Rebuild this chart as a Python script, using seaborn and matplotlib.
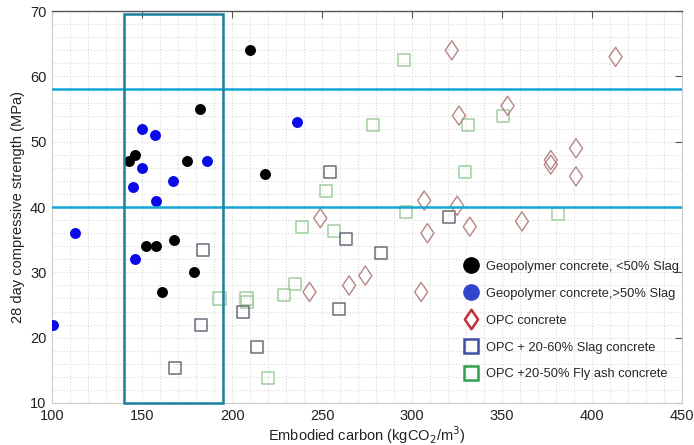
import numpy as np
import pandas as pd
import matplotlib
matplotlib.use("Agg")
import matplotlib.pyplot as plt
from matplotlib.path import Path
from matplotlib.lines import Line2D
from matplotlib.patches import Rectangle
from matplotlib.ticker import MultipleLocator
import seaborn as sns

# ---- data ----
geo_low_x = [210, 182, 146, 143, 175, 218, 152, 158, 168, 179, 161]
geo_low_y = [64, 55, 48, 47, 47, 45, 34, 34, 35, 30, 27]

geo_high_x = [150, 157, 150, 145, 167, 158, 186, 236, 113, 146, 100.5]
geo_high_y = [52, 51, 46, 43, 44, 41, 47, 53, 36, 32, 22]

opc_x = [322, 413, 353, 326, 391, 377, 377, 391, 306.7, 325, 249, 332, 308.5, 361, 274, 265, 243, 305]
opc_y = [64, 63, 55.5, 54, 49, 47.2, 46.5, 44.7, 41, 40.2, 38.3, 37, 36, 37.8, 29.5, 28, 27, 27]

slag_x = [254.4, 320.6, 263, 282.7, 259.6, 184, 182.8, 168.3, 206, 214]
slag_y = [45.4, 38.5, 35.1, 33, 24.4, 33.4, 21.9, 15.3, 24, 18.5]

fly_x = [295.6, 278, 331, 329.4, 252, 296.7, 350.6, 381, 238.7, 256.7, 235, 229, 193, 208, 208.3, 220]
fly_y = [62.5, 52.5, 52.5, 45.4, 42.4, 39.2, 54, 38.9, 37, 36.3, 28.2, 26.5, 26, 26, 25.4, 13.8]

labels = ["Geopolymer concrete, <50% Slag", "Geopolymer concrete,>50% Slag",
          "OPC concrete", "OPC + 20-60% Slag concrete", "OPC +20-50% Fly ash concrete"]

hlines = [58, 40]
box_x = [140, 195]
box_y = [10, 69.6]

# ---- plotting ----
sns.set_style("white")
plt.rcParams['font.family'] = ['Liberation Sans', 'DejaVu Sans']

fig = plt.figure(figsize=(6.94, 4.45), dpi=100)
ax = fig.add_axes([0.075, 0.0944, 0.908, 0.8806])

diamond = Path([(0, 1), (0.68, 0), (0, -1), (-0.68, 0), (0, 1)],
               [Path.MOVETO, Path.LINETO, Path.LINETO, Path.LINETO, Path.CLOSEPOLY])

df_low = pd.DataFrame({"x": geo_low_x, "y": geo_low_y})
df_high = pd.DataFrame({"x": geo_high_x, "y": geo_high_y})
df_opc = pd.DataFrame({"x": opc_x, "y": opc_y})
df_slag = pd.DataFrame({"x": slag_x, "y": slag_y})
df_fly = pd.DataFrame({"x": fly_x, "y": fly_y})

sns.scatterplot(data=df_fly, x="x", y="y", ax=ax, marker="s", s=75,
                facecolor="none", edgecolor="#9fd09f", linewidth=1.1, zorder=3)
sns.scatterplot(data=df_slag, x="x", y="y", ax=ax, marker="s", s=75,
                facecolor="none", edgecolor="#6c6c7c", linewidth=1.1, zorder=3)
sns.scatterplot(data=df_opc, x="x", y="y", ax=ax, marker=diamond, s=190,
                facecolor="none", edgecolor="#b88585", linewidth=1.0, zorder=3)
sns.scatterplot(data=df_low, x="x", y="y", ax=ax, marker="o", s=62,
                color="black", edgecolor="black", linewidth=0, zorder=4)
sns.scatterplot(data=df_high, x="x", y="y", ax=ax, marker="o", s=62,
                color="#0a0ae6", edgecolor="#0a0ae6", linewidth=0, zorder=4)

for h in hlines:
    ax.axhline(h, color="#14a6d4", lw=1.8, zorder=5)
ax.add_patch(Rectangle((box_x[0], box_y[0]), box_x[1] - box_x[0], box_y[1] - box_y[0],
                       fill=False, edgecolor="#1b7f9c", lw=1.8, zorder=5, clip_on=False))

ax.set_xlim(100, 450)
ax.set_ylim(10, 70)
ax.xaxis.set_major_locator(MultipleLocator(50))
ax.yaxis.set_major_locator(MultipleLocator(10))
ax.xaxis.set_minor_locator(MultipleLocator(10))
ax.yaxis.set_minor_locator(MultipleLocator(2))
ax.grid(which="both", color="#d9d9d9", linestyle=":", linewidth=0.8, zorder=0)
ax.set_axisbelow(True)
ax.tick_params(which="major", direction="in", length=5, width=0.8, color="#555555",
               top=True, right=True, labelsize=10.5, pad=4, labelcolor="#222222")
ax.tick_params(which="minor", length=0)

for side in ["bottom", "left", "right"]:
    ax.spines[side].set_color("#cccccc")
    ax.spines[side].set_linewidth(0.8)
ax.spines["top"].set_color("#555555")
ax.spines["top"].set_linewidth(1.0)

ax.set_xlabel("Embodied carbon (kgCO$_2$/m$^3$)", fontsize=10.5, color="#222222", labelpad=1)
ax.set_ylabel("28 day compressive strength (MPa)", fontsize=10.5, color="#222222", labelpad=4)

handles = [
    Line2D([], [], ls="none", marker="o", markersize=11, color="black"),
    Line2D([], [], ls="none", marker="o", markersize=11, color="#3344cc"),
    Line2D([], [], ls="none", marker=diamond, markersize=14, markerfacecolor="none",
           markeredgecolor="#c0303a", markeredgewidth=1.8),
    Line2D([], [], ls="none", marker="s", markersize=10, markerfacecolor="none",
           markeredgecolor="#4050a0", markeredgewidth=1.8),
    Line2D([], [], ls="none", marker="s", markersize=10, markerfacecolor="none",
           markeredgecolor="#30a050", markeredgewidth=1.8),
]
ax.legend(handles, labels, loc="upper left", bbox_to_anchor=(0.647, 0.376),
          frameon=False, fontsize=9.3, handlelength=1.0, handletextpad=0.6,
          labelspacing=1.15, borderaxespad=0)

fig.savefig("out.png", dpi=100)
